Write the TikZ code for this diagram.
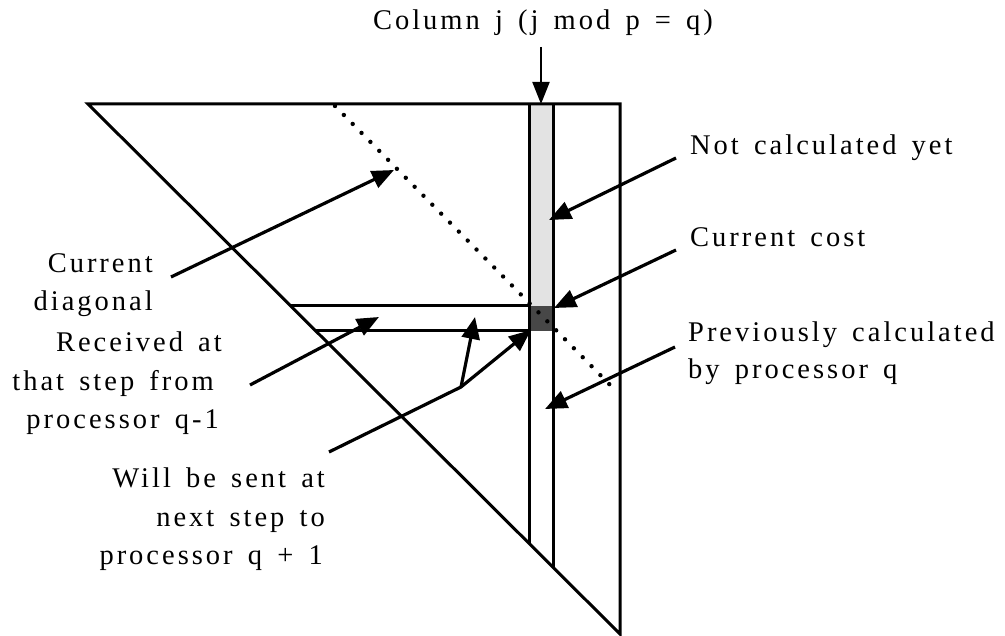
\documentclass[tikz,border=0pt]{standalone}
\usepackage{fontspec}
\setmainfont{Liberation Serif}
\newfontfamily\lblfont[LetterSpace=10.5,WordSpace=1.5]{Liberation Serif}
\usetikzlibrary{arrows.meta}
\begin{document}
\begin{tikzpicture}[x=1pt,y=-1pt,
  edge/.style={line width=3pt},
  ptr/.style={line width=3.2pt,line join=round,-{Triangle[length=22pt,width=18pt]}},
  lbl/.style={font=\fontsize{28.5}{38}\lblfont, inner sep=0pt},
]
\useasboundingbox (0,0) rectangle (1005,636);
% key points
\coordinate (T) at (88,104);
\coordinate (R) at (620,104);
\coordinate (A) at (620,634);
\coordinate (CLt) at (529,104);
\coordinate (CLb) at (529,543);
\coordinate (CRt) at (553,104);
\coordinate (CRb) at (553,567);
\coordinate (U1) at (291,306);
\coordinate (U2) at (529,306);
\coordinate (L1) at (316,331);
\coordinate (L2) at (529,331);
\coordinate (D1) at (335,106);
\coordinate (D2) at (617,392);
% shading
\fill[black!11] (CLt) rectangle (553,306);
\fill[black!72] (U2) rectangle (553,331);
% frame
\draw[edge] (T) -- (R) -- (A) -- cycle;
\draw[edge] (CLt) -- (CLb);
\draw[edge] (CRt) -- (CRb);
\draw[edge] (U1) -- (U2);
\draw[edge] (L1) -- (L2);
\draw[line width=4.4pt,line cap=round,dash pattern=on 0pt off 12.6pt] (D1) -- (D2);
% labels
\node[lbl,anchor=base] (col) at (543,30) {Column j (j mod p = q)};
\node[lbl,anchor=base west] (nc) at (690,155) {Not calculated yet};
\node[lbl,anchor=base west] (cc) at (690,247) {Current cost};
\node[lbl,anchor=base west] (pc1) at (688,342) {Previously calculated};
\node[lbl,anchor=base west] (pc2) at (688,379) {by processor q};
\node[lbl,anchor=base east] (cd1) at (153,273) {Current};
\node[lbl,anchor=base east] (cd2) at (153,311) {diagonal};
\node[lbl,anchor=base east] (rc1) at (222,352) {Received at};
\node[lbl,anchor=base east] (rc2) at (214,391) {that step from};
\node[lbl,anchor=base east] (rc3) at (219,429) {processor q-1};
\node[lbl,anchor=base east] (ws1) at (325,488) {Will be sent at};
\node[lbl,anchor=base east] (ws2) at (325,526) {next step to};
\node[lbl,anchor=base east] (ws3) at (323,564) {processor q + 1};
% arrow end points
\coordinate (colS) at (541,47);
\coordinate (colT) at (541,104);
\coordinate (ncS) at (676,158);
\coordinate (ncT) at (549,220);
\coordinate (ccS) at (676,250);
\coordinate (ccT) at (554,308);
\coordinate (pcS) at (675,347);
\coordinate (pcT) at (545,409);
\coordinate (cdS) at (171,277);
\coordinate (cdT) at (394,170);
\coordinate (rcS) at (250,385);
\coordinate (rcT) at (379,317);
\coordinate (wsS) at (329,452);
\coordinate (wsB) at (461,387);
\coordinate (wsE) at (531,330);
\coordinate (wsU) at (475,317);
% arrows
\draw[line width=2pt,-{Triangle[length=22pt,width=17pt]}] (colS) -- (colT);
\draw[ptr] (ncS) -- (ncT);
\draw[ptr] (ccS) -- (ccT);
\draw[ptr] (pcS) -- (pcT);
\draw[ptr] (cdS) -- (cdT);
\draw[ptr] (rcS) -- (rcT);
\draw[ptr] (wsS) -- (wsB) -- (wsE);
\draw[ptr] (wsB) -- (wsU);
\end{tikzpicture}
\end{document}
